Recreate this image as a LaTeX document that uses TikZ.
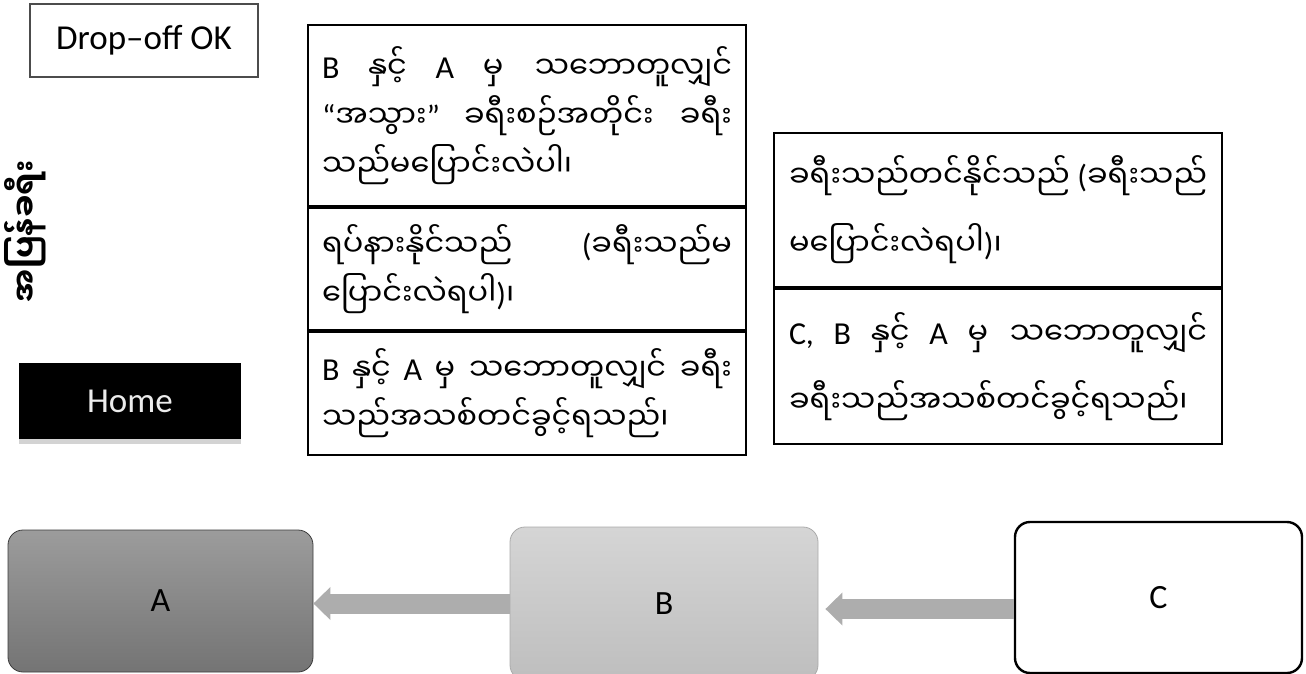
\documentclass[tikz,border=0pt]{standalone}
\usepackage{fontspec}
\setmainfont{Carlito}
\newfontfamily\mmfont[Script=Myanmar,Scale=0.95]{Noto Sans Myanmar UI}
\newcommand{\mm}[1]{{\mmfont #1}}
\usepackage{tikz}
\usetikzlibrary{positioning,arrows.meta,shadows}
\definecolor{arrowgray}{RGB}{173,173,173}
\definecolor{atop}{RGB}{156,156,156}
\definecolor{abot}{RGB}{116,116,116}
\definecolor{btop}{RGB}{213,213,213}
\definecolor{bbot}{RGB}{190,190,190}

\begin{document}
\begin{tikzpicture}[x=0.5pt,y=-0.5pt,
    rulebox/.style={draw, line width=1pt, inner xsep=7pt, inner ysep=0pt, align=justify, font=\fontsize{16}{24.5}\selectfont},
    stop/.style={rounded corners=7.5pt, font=\fontsize{17}{20}\selectfont},
    bigarrow/.style={draw=arrowgray, line width=10pt, -{Triangle[length=8.5pt,width=16pt]}}]
    \useasboundingbox (0,0) rectangle (1306,674);
    \node[draw=black!70, line width=0.6pt, minimum width=114pt, minimum height=36.5pt, font=\fontsize{17.5}{21}\selectfont] (drop) at (144,40.5) {Drop–off OK};
    \node[rotate=90, font=\mmfont\bfseries\fontsize{16.5}{18}\selectfont] (side) at (25,231) {အပြန်ခရီး};
    \node[fill=black, minimum width=111pt, minimum height=38pt, text=gray!15, font=\fontsize{17.5}{21}\selectfont, drop shadow={shadow xshift=0pt, shadow yshift=-2.5pt, opacity=0.35}] (home) at (130,401) {Home};
    \node[rulebox, anchor=north west, text width=205pt, minimum height=90.5pt] (r1) at (307,24)
        {B \mm{နှင့်} A \mm{မှ သဘောတူလျှင်}\linebreak “\mm{အသွား}” \mm{ခရီးစဉ်အတိုင်း ခရီး}\linebreak \mm{သည်မပြောင်းလဲပါ၊}};
    \node[rulebox, text width=205pt, minimum height=61pt, below=0pt of r1] (r2)
        {\mm{ရပ်နားနိုင်သည်} (\mm{ခရီးသည်မ}\linebreak \mm{ပြောင်းလဲရပါ})\mm{၊}};
    \node[rulebox, text width=205pt, minimum height=61.5pt, below=0pt of r2] (r3)
        {B \mm{နှင့်} A \mm{မှ သဘောတူလျှင် ခရီး}\linebreak \mm{သည်အသစ်တင်ခွင့်ရသည်၊}};
    \node[rulebox, anchor=north west, inner xsep=7.5pt, text width=209pt, minimum height=77pt, font=\fontsize{16}{34}\selectfont] (s1) at (773,132)
        {\mm{ခရီးသည်တင်နိုင်သည်} (\mm{ခရီးသည်}\linebreak \mm{မပြောင်းလဲရပါ})\mm{၊}};
    \node[rulebox, inner xsep=7.5pt, text width=209pt, minimum height=77.5pt, font=\fontsize{16}{34}\selectfont, below=0pt of s1] (s2)
        {C, B \mm{နှင့်} A \mm{မှ သဘောတူလျှင်}\linebreak \mm{ခရီးသည်အသစ်တင်ခွင့်ရသည်၊}};
    \node[stop, draw={rgb,255:red,60;green,60;blue,60}, top color=atop, bottom color=abot, minimum width=152.5pt, minimum height=71pt] (A) at (160.5,601) {A};
    \node[stop, draw={rgb,255:red,170;green,170;blue,170}, top color=btop, bottom color=bbot, minimum width=154pt, minimum height=76.5pt] (B) at (664,603.5) {B};
    \node[stop, draw, line width=1.2pt, fill=white, minimum width=143.5pt, minimum height=75.5pt] (C) at (1158.5,597.5) {C};
    \draw[bigarrow] (B.west) -- (B.west -| A.east);
    \draw[bigarrow, shorten >=3.5pt] ([yshift=-5.75pt]C.west) -- ([yshift=-5.75pt]C.west -| B.east);
\end{tikzpicture}
\end{document}
